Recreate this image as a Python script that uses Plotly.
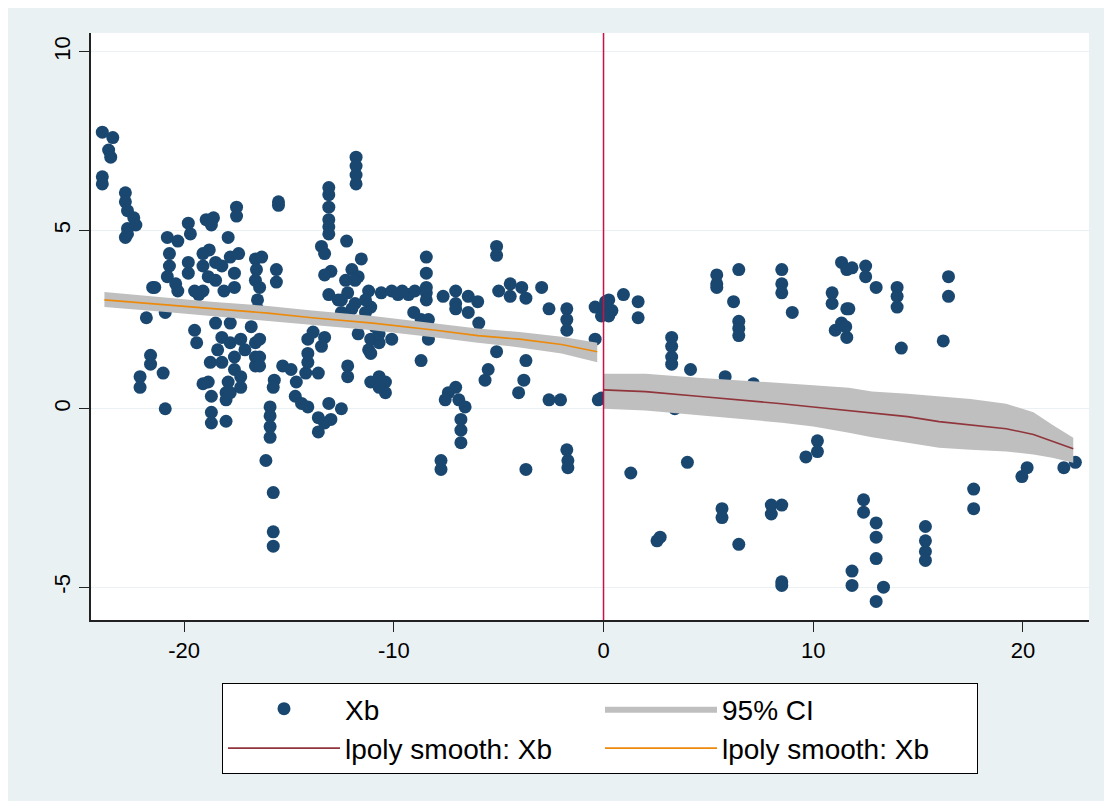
import plotly.graph_objects as go

# ---------------- data ----------------
xb_x = [
    -23.9, -23.4, -23.6, -23.5, -23.9, -23.9,
    -22.8, -22.8, -22.7, -22.4, -22.3, -22.7, -22.8, -22.7,
    -21.8, -21.6, -21.6, -22.1, -22.1, -21.0, -20.9, -21.5,
    -20.8, -20.3, -19.8, -19.7, -20.7, -20.7, -20.8, -21.4, -20.4, -19.8, -19.8, -19.5, -20.3, -20.9,
    -18.95, -18.6, -18.7, -17.9, -17.5, -17.5, -19.1, -18.8, -19.1, -18.5, -18.2, -17.8, -17.4, -17.6, -17.6, -18.85, -18.5, -19.1, -19.3, -18.1,
    -16.6, -16.55, -16.6, -16.4, -16.5, -16.5,
    -19.5, -19.4, -18.5, -18.2, -18.4, -18.75, -18.2, -17.8, -17.8, -17.3, -17.1, -16.6, -16.8, -16.6, -16.6, -17.6, -17.6, -17.9, -17.3, -18.0, -18.85, -19.1, -18.7, -18.7, -18.7, -18.0, -18.0, -17.8, -17.3,
    -15.9, -15.9, -15.9, -15.9, -16.1, -15.75, -15.75, -15.75,
    -16.3, -15.6, -15.6, -15.5, -15.5,
    -16.4, -16.4, -16.4,
    -15.3, -15.7, -15.75, -14.9, -14.65, -14.7, -14.4, -14.1, -14.2, -14.1, -13.85, -14.1, -14.1, -13.6, -13.3, -13.45, -13.6, -13.6, -13.1, -13.0, -12.5, -13.3,
    -12.2, -12.2, -11.1, -10.4, -10.7, -10.7, -10.4,
    -13.1, -13.1, -13.1, -13.1, -13.1, -13.1, -13.45, -13.3, -13.0, -13.3, -13.1, -12.25,
    -11.8, -11.8, -11.8, -11.8,
    -11.55, -12.0, -12.3, -11.7, -12.2, -12.5, -11.85, -11.2, -10.6, -10.1, -9.6, -11.1, -11.35, -11.7, -11.1, -11.2, -10.7, -10.1, -10.9,
    -12.65, -12.5, -11.85, -11.35, -12.0, -10.7, -11.1,
    -9.8, -9.3, -9.0,
    -8.45, -8.45, -8.45, -8.45, -8.45, -8.7, -8.35, -8.35, -8.7, -9.05,
    -7.65, -7.05, -7.05, -7.05, -6.45, -6.45, -5.95, -6.0, -5.1, -5.1, -5.0, -4.45, -4.45, -3.9, -3.7, -2.95, -2.6, -1.75, -1.75, -1.75, -0.4, -0.4,
    -5.1, -5.5, -5.65, -3.7, -3.8, -4.05, -2.6, -2.05, -0.25,
    -7.4, -7.05, -7.55, -6.9, -6.6, -6.8, -6.8, -6.8, -7.75, -7.75, -3.7, -1.75, -1.7, -1.7,
    0.25, 0.25, 0.0, 0.1, -0.1, 0.4, 0.95, 1.65, 1.65, -0.1, 1.3, 2.55, 2.7,
    3.25, 3.25, 3.25, 3.25, 4.15, 3.4, 4.0,
    5.4, 5.4, 5.4, 6.45, 6.2, 6.45, 6.45, 6.45, 5.8, 5.65, 5.65, 6.45,
    8.5, 8.5, 8.5, 9.0, 8.0, 8.0, 8.5, 8.5, 8.5, 9.65, 10.2, 10.2, 7.15,
    10.9, 10.9, 11.05, 11.35, 11.6, 11.6, 11.35, 11.6, 11.85, 12.5, 12.5, 13.0, 14.0, 14.0, 14.0, 14.2, 16.45, 16.45, 16.2, 11.7, 11.55,
    12.4, 12.4, 13.0, 13.0, 13.0, 11.85, 11.85, 13.35, 13.0, 15.35, 15.35, 15.35, 15.35, 17.65, 17.65, 19.95, 20.2, 21.95, 22.5,
]
xb_y = [
    7.75, 7.6, 7.25, 7.05, 6.5, 6.3,
    6.05, 5.8, 5.55, 5.35, 5.15, 5.05, 4.8, 4.9,
    2.55, 1.5, 1.25, 0.9, 0.6, 1.0, 0.0, 3.4,
    4.8, 4.7, 5.2, 4.9, 4.35, 4.0, 3.7, 3.4, 3.5, 4.1, 3.8, 3.3, 3.3, 2.7,
    5.3, 5.35, 5.15, 4.8, 5.65, 5.4, 4.35, 4.45, 4.0, 4.1, 4.0, 4.25, 4.35, 3.8, 3.4, 3.7, 3.6, 3.3, 3.2, 3.3,
    4.2, 3.9, 3.6, 3.4, 3.05, 2.8,
    2.2, 1.85, 2.4, 2.0, 1.65, 1.3, 1.3, 2.4, 1.85, 1.95, 1.65, 1.85, 2.3, 1.45, 1.2, 1.45, 1.1, 0.75, 0.9, 0.45, 0.75, 0.7, 0.35, -0.1, -0.4, -0.35, 0.25, 0.45, 0.6,
    0.05, -0.2, -0.5, -0.8, -1.45, -2.35, -3.45, -3.85,
    4.25, 3.9, 3.55, 5.8, 5.7,
    1.95, 1.45, 1.2,
    1.2, 0.8, 0.6, 1.1, 0.75, 0.35, 0.15, 0.05, 1.0, 1.95, 2.15, 1.55, 1.3, 1.0, 2.0, 1.75, -0.25, -0.65, 0.15, -0.3, 0.0, -0.4,
    1.2, 0.9, 0.75, 0.75, 0.6, 0.9, 0.45,
    6.2, 6.0, 5.65, 5.3, 5.1, 4.9, 4.55, 4.35, 3.85, 3.75, 3.2, 4.7,
    7.05, 6.8, 6.55, 6.3,
    4.2, 3.9, 3.6, 3.7, 3.25, 3.05, 2.95, 3.3, 3.25, 3.3, 3.3, 2.85, 2.7, 2.1, 1.95, 1.65, 1.85, 1.95, 2.3,
    3.05, 2.7, 3.6, 3.05, 2.8, 2.1, 1.55,
    3.2, 3.2, 3.3,
    4.25, 3.8, 3.4, 3.25, 3.05, 2.5, 2.5, 1.95, 1.35, 2.7,
    3.15, 3.3, 2.95, 2.8, 3.15, 2.7, 2.4, 3.0, 4.55, 4.3, 3.3, 3.5, 3.15, 3.4, 3.1, 3.4, 2.8, 2.8, 2.5, 2.2, 2.85, 1.95,
    1.6, 1.1, 0.8, 1.35, 0.8, 0.45, 0.25, 0.25, 0.25,
    0.45, 0.6, 0.25, 0.25, 0.05, -0.3, -0.6, -0.95, -1.45, -1.7, -1.7, -1.15, -1.45, -1.65,
    3.05, 2.6, 2.8, 3.0, 2.6, 2.75, 3.2, 3.0, 2.55, 0.3, -1.8, -3.7, -3.6,
    2.0, 1.75, 1.45, 1.25, 1.1, 0.0, -1.5,
    3.75, 3.5, 3.4, 3.9, 3.0, 2.45, 2.25, 2.05, 0.9, -2.8, -3.05, -3.8,
    3.9, 3.5, 3.25, 2.7, -2.7, -2.95, -2.7, -4.85, -4.95, -1.35, -0.9, -1.2, 0.7,
    3.25, 2.95, 2.2, 2.4, 2.8, 2.0, 4.1, 3.9, 3.95, 4.0, 3.7, 3.4, 3.4, 3.15, 2.85, 1.7, 3.7, 3.15, 1.9, 2.8, 2.3,
    -2.55, -2.9, -3.2, -3.6, -4.2, -4.55, -4.95, -5.0, -5.4, -3.3, -3.7, -4.0, -4.25, -2.25, -2.8, -1.9, -1.65, -1.65, -1.5,
]

# local polynomial smooth, left of cutoff
left_x = [-23.8, -21.0, -18.7, -16.0, -13.9, -11.0, -8.0, -6.0, -4.0, -2.0, -0.3]
left_fit = [3.05, 2.92, 2.8, 2.68, 2.55, 2.4, 2.2, 2.05, 1.95, 1.8, 1.6]
left_hi = [3.27, 3.12, 3.0, 2.88, 2.75, 2.6, 2.4, 2.25, 2.15, 2.02, 1.85]
left_lo = [2.85, 2.72, 2.6, 2.48, 2.35, 2.2, 2.0, 1.85, 1.72, 1.55, 1.3]

# local polynomial smooth, right of cutoff
right_x = [0.0, 2.0, 4.5, 6.5, 8.5, 10.0, 11.7, 12.8, 14.5, 16.0, 17.5, 19.2, 20.5, 21.4, 22.4]
right_fit = [0.53, 0.48, 0.35, 0.25, 0.14, 0.05, -0.06, -0.11, -0.22, -0.36, -0.45, -0.56, -0.72, -0.92, -1.12]
right_hi = [0.98, 0.98, 0.87, 0.8, 0.73, 0.66, 0.59, 0.48, 0.42, 0.34, 0.27, 0.14, -0.1, -0.45, -0.81]
right_lo = [0.0, -0.05, -0.17, -0.28, -0.39, -0.5, -0.67, -0.8, -0.95, -1.09, -1.15, -1.2, -1.28, -1.37, -1.51]

x_ticks = [-20, -10, 0, 10, 20]
x_tick_labels = ["-20", "-10", "0", "10", "20"]
y_ticks = [-5, 0, 5, 10]
y_tick_labels = ["-5", "0", "5", "10"]
cutoff = 0

# ---------------- styles ----------------
NAVY = "#1a476f"
MAROON = "#90353b"
ORANGE = "#ec8a0c"
CI_GRAY = "#bfbfbf"
OUTER = "#eaf1f3"
CUT_RED = "#cc1144"
FONT = "Liberation Sans, Arial, sans-serif"

fig = go.Figure()

fig.add_trace(go.Scatter(
    x=xb_x, y=xb_y, mode="markers", name="Xb",
    marker=dict(color=NAVY, size=13, symbol="circle", line=dict(width=0)),
))

fig.add_trace(go.Scatter(
    x=left_x + left_x[::-1], y=left_hi + left_lo[::-1],
    fill="toself", fillcolor=CI_GRAY, mode="lines", line=dict(width=0, color=CI_GRAY),
    name="95% CI", legendgroup="ci", showlegend=True,
))
fig.add_trace(go.Scatter(
    x=right_x + right_x[::-1], y=right_hi + right_lo[::-1],
    fill="toself", fillcolor=CI_GRAY, mode="lines", line=dict(width=0, color=CI_GRAY),
    name="95% CI", legendgroup="ci", showlegend=False,
))

fig.add_trace(go.Scatter(
    x=right_x, y=right_fit, mode="lines", name="lpoly smooth: Xb",
    line=dict(color=MAROON, width=1.6),
))
fig.add_trace(go.Scatter(
    x=left_x, y=left_fit, mode="lines", name="lpoly smooth: Xb",
    line=dict(color=ORANGE, width=1.6),
))

# figure sits at page offset (8, 8) inside the browser window
OFF = 8
W, H = 1096, 793
L, R, T, B = 83, 15, 25, 181
pw, ph = W - L - R, H - T - B


def px_x(p):
    return (p - OFF - L) / pw


def px_y(p):
    return (H - B - (p - OFF)) / ph


fig.update_layout(
    width=W, height=H,
    margin=dict(l=L, r=R, t=T, b=B, autoexpand=False),
    paper_bgcolor=OUTER,
    plot_bgcolor="white",
    font=dict(family=FONT, size=22, color="black"),
    showlegend=True,
    legend=dict(
        orientation="h",
        x=px_x(222), xanchor="left",
        y=px_y(683), yanchor="top",
        bgcolor="white", bordercolor="black", borderwidth=1,
        font=dict(family=FONT, size=28, color="black"),
        entrywidth=250, entrywidthmode="pixels",
        itemwidth=112,
        traceorder="normal",
    ),
    shapes=[
        dict(type="line", xref="x", yref="paper",
             x0=cutoff, x1=cutoff, y0=0, y1=1,
             line=dict(color=CUT_RED, width=1.5), layer="above"),
    ],
)

fig.update_xaxes(
    range=[-24.44, 23.15],
    tickvals=x_ticks, ticktext=x_tick_labels,
    showgrid=False, zeroline=False,
    showline=True, linecolor="#222", linewidth=1.5,
    ticks="outside", ticklen=10, tickwidth=1.3, tickcolor="#222",
    tickfont=dict(family=FONT, size=22, color="black"),
)
fig.update_yaxes(
    range=[-5.92, 10.53],
    tickvals=y_ticks, ticktext=y_tick_labels,
    showgrid=True, gridcolor=OUTER, gridwidth=1, zeroline=False,
    showline=True, linecolor="#222", linewidth=1.5,
    ticks="outside", ticklen=10, tickwidth=1.3, tickcolor="#222",
    tickangle=-90,
    tickfont=dict(family=FONT, size=22, color="black"),
)

fig.write_html("out.html")
